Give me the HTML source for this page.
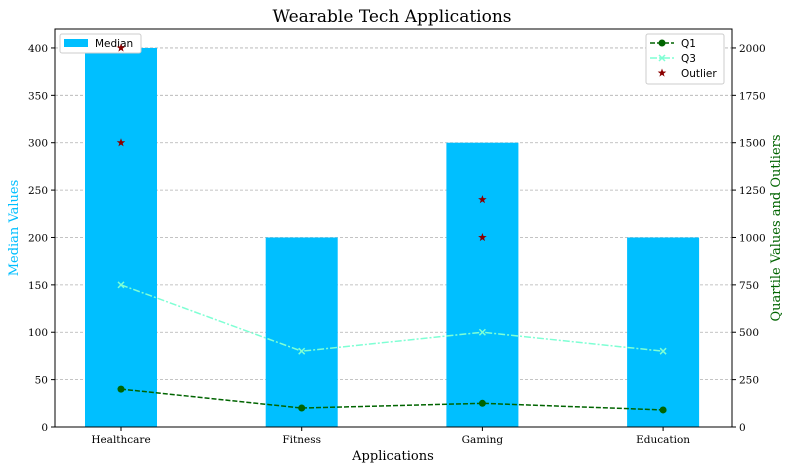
<!DOCTYPE html>
<html><head><meta charset="utf-8"><style>
body{margin:0;background:#fff;}
svg{display:block;}
text{font-family:"DejaVu Serif","Liberation Serif",serif;}
.tick{font-size:10.5px;fill:#000;}
.leg{font-family:"DejaVu Sans","Liberation Sans",sans-serif;font-size:10.5px;}
</style></head><body>
<svg id="c" width="790" height="470">
<text x="392" y="22" text-anchor="middle" font-size="17">Wearable Tech Applications</text>
<text x="393" y="460" text-anchor="middle" font-size="13">Applications</text>
<text transform="translate(18,228) rotate(-90)" text-anchor="middle" font-size="13" fill="#00bfff">Median Values</text>
<text transform="translate(780,228) rotate(-90)" text-anchor="middle" font-size="13" fill="#006400">Quartile Values and Outliers</text>
</svg>
<script>
const categories=["Healthcare","Fitness","Gaming","Education"];
const medianValues=[400,200,300,200];
const q1Values=[200,100,125,90];
const q3Values=[750,400,500,400];
const outlierCats=[0,0,2,2];
const outlierValues=[1500,2000,1000,1200];
const leftTicks=[0,50,100,150,200,250,300,350,400];
const rightTicks=[0,250,500,750,1000,1250,1500,1750,2000];

const L=55,R=732,T=29,B=427;
const yL=v=>B-v*(B-T)/420;
const yR=v=>B-v*(B-T)/2100;
const xC=i=>121+i*180.7;
const svg=document.getElementById('c');
const NS='http://www.w3.org/2000/svg';
function mk(tag,attrs,parent){const e=document.createElementNS(NS,tag);for(const k in attrs)e.setAttribute(k,attrs[k]);(parent||svg).appendChild(e);return e;}
leftTicks.forEach(v=>{if(v===0)return;const g=mk('line',{x1:L,x2:R,y1:yL(v),y2:yL(v),stroke:'#b0b0b0','stroke-width':0.8,'stroke-dasharray':'3,2'});

});
medianValues.forEach((v,i)=>{const b=mk('rect',{x:xC(i)-36,y:yL(v),width:72,height:B-yL(v),fill:'#00bfff'});

});
// median legend (drawn before right-axis series)
const lg=mk('g',{});


mk('rect',{x:60,y:34,width:81,height:19,fill:'#fff',stroke:'#ccc',rx:2},lg);
mk('rect',{x:64,y:39,width:24,height:8,fill:'#00bfff'},lg);
const lt=mk('text',{x:95,y:47,class:'leg'},lg);lt.textContent='Median';
let p=mk('polyline',{points:q1Values.map((v,i)=>xC(i)+','+yR(v)).join(' '),fill:'none',stroke:'#006400','stroke-width':1.5,'stroke-dasharray':'5,2'});


q1Values.forEach((v,i)=>{const c=mk('circle',{cx:xC(i),cy:yR(v),r:3.5,fill:'#006400'});

});
p=mk('polyline',{points:q3Values.map((v,i)=>xC(i)+','+yR(v)).join(' '),fill:'none',stroke:'#7fffd4','stroke-width':1.5,'stroke-dasharray':'7,2,2,2'});


q3Values.forEach((v,i)=>{const x=xC(i),y=yR(v);const g=mk('path',{d:`M${x-3},${y-3}L${x+3},${y+3}M${x-3},${y+3}L${x+3},${y-3}`,stroke:'#7fffd4','stroke-width':1.5});

});
function star(x,y,r){let d='';for(let k=0;k<10;k++){const rr=k%2?r*0.4:r;const a=-Math.PI/2+k*Math.PI/5;d+=(k?'L':'M')+(x+rr*Math.cos(a)).toFixed(1)+','+(y+rr*Math.sin(a)).toFixed(1);}return d+'Z';}
outlierValues.forEach((v,i)=>{const s=mk('path',{d:star(xC(outlierCats[i]),yR(v),4.5),fill:'#8b0000'});

});
mk('rect',{x:L,y:T,width:R-L,height:B-T,fill:'none',stroke:'#000','stroke-width':1});
leftTicks.forEach(v=>{mk('line',{x1:L-4,x2:L,y1:yL(v),y2:yL(v),stroke:'#000'});const t=mk('text',{x:L-7,y:yL(v)+4,'text-anchor':'end',class:'tick'});t.textContent=v;

});
rightTicks.forEach(v=>{mk('line',{x1:R,x2:R+4,y1:yR(v),y2:yR(v),stroke:'#000'});const t=mk('text',{x:R+7,y:yR(v)+4,class:'tick'});t.textContent=v;

});
categories.forEach((c,i)=>{mk('line',{x1:xC(i),x2:xC(i),y1:B,y2:B+4,stroke:'#000'});const t=mk('text',{x:xC(i),y:B+16,'text-anchor':'middle',class:'tick'});t.textContent=c;

});
// right legend
const rg=mk('g',{});


mk('rect',{x:646,y:34,width:78,height:50,fill:'#fff',stroke:'#ccc',rx:2},rg);
mk('line',{x1:650,x2:674,y1:43,y2:43,stroke:'#006400','stroke-width':1.5,'stroke-dasharray':'5,2'},rg);
mk('circle',{cx:662,cy:43,r:3.5,fill:'#006400'},rg);
let t=mk('text',{x:681,y:47,class:'leg'},rg);t.textContent='Q1';
mk('line',{x1:650,x2:674,y1:58,y2:58,stroke:'#7fffd4','stroke-width':1.5,'stroke-dasharray':'7,2,2,2'},rg);
mk('path',{d:'M659,55L665,61M659,61L665,55',stroke:'#7fffd4','stroke-width':1.5},rg);
t=mk('text',{x:681,y:62,class:'leg'},rg);t.textContent='Q3';
mk('path',{d:star(662,73,4.5),fill:'#8b0000'},rg);
t=mk('text',{x:681,y:77,class:'leg'},rg);t.textContent='Outlier';
</script>
</body></html>
